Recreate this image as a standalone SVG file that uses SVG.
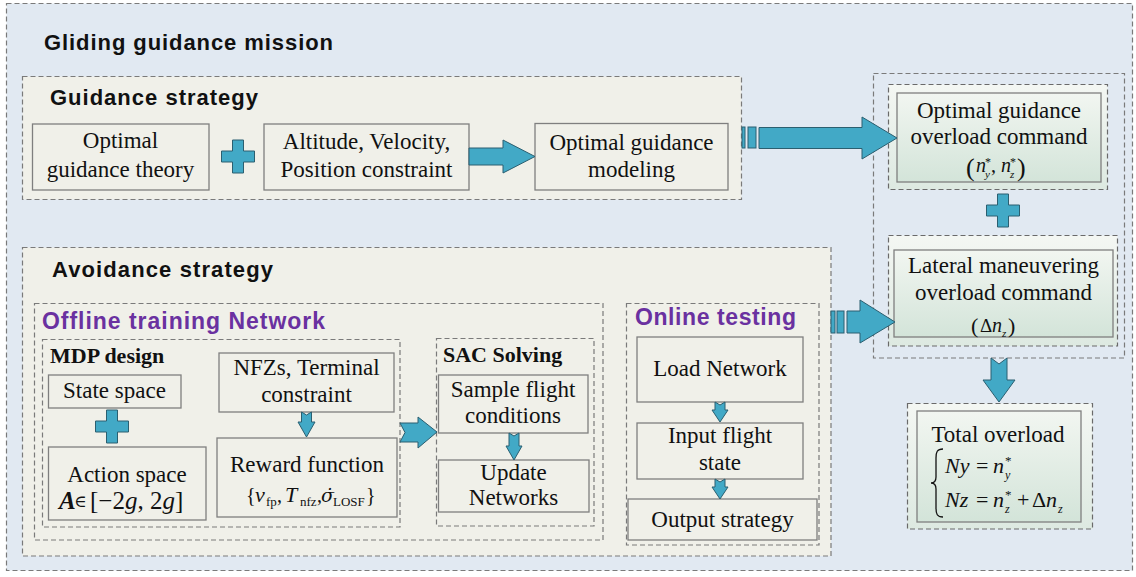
<svg xmlns="http://www.w3.org/2000/svg" width="1136" height="577" viewBox="0 0 1136 577">
<defs>
<linearGradient id="gr" x1="0" y1="0" x2="0" y2="1">
<stop offset="0" stop-color="#f2f6f1"/>
<stop offset="1" stop-color="#d3e4d9"/>
</linearGradient>
<linearGradient id="gr2" x1="0" y1="0" x2="0" y2="1">
<stop offset="0" stop-color="#f4f7f3"/>
<stop offset="1" stop-color="#dde9e1"/>
</linearGradient>
</defs>
<style>
.dash{fill:none;stroke:#7a7a7a;stroke-width:1.2;stroke-dasharray:5 3}
.panel{fill:#f0f0e9;stroke:#7a7a7a;stroke-width:1.2;stroke-dasharray:5 3}
.box{fill:#f0f0e9;stroke:#7f7f7f;stroke-width:1.3}
.gbox{fill:url(#gr);stroke:#7f7f7f;stroke-width:1.3}
.gdash{fill:url(#gr2);stroke:#6a6a6a;stroke-width:1.2;stroke-dasharray:5 3}
.t{font-family:"Liberation Serif",serif;font-size:23px;fill:#111;text-anchor:middle}
.tb{font-family:"Liberation Serif",serif;font-size:22px;font-weight:bold;fill:#111}
.h{font-family:"Liberation Sans",sans-serif;font-size:22px;font-weight:bold;fill:#111}
.p{font-family:"Liberation Sans",sans-serif;font-size:23px;font-weight:bold;fill:#6a31a0}
.m{font-family:"Liberation Serif",serif;fill:#111}
.i{font-style:italic}
.ar{fill:#42a9c6;stroke:#2b5f70;stroke-width:1}
</style>
<rect x="0" y="0" width="1136" height="577" fill="#ffffff"/>
<rect x="6.5" y="3.5" width="1126" height="567" fill="#e1e9f2" stroke="#7a7a7a" stroke-width="1.2" stroke-dasharray="5 3"/>
<text class="h" x="44" y="50" font-size="23" textLength="289">Gliding guidance mission</text>

<g id="guidance-strategy">
<rect class="panel" x="22.5" y="76.5" width="719" height="123"/>
<text class="h" x="50" y="105" textLength="208">Guidance strategy</text>
</g>
<g id="optimal-theory">
<rect class="box" x="32.5" y="124" width="176.5" height="66"/>
<text class="t" x="120.5" y="148">Optimal</text>
<text class="t" x="120.5" y="177">guidance theory</text>
</g>
<g id="plus1"><path class="ar" d="M232.5,140 h11 v11 h11 v11 h-11 v11 h-11 v-11 h-11 v-11 h11 z"/></g>
<g id="constraints">
<rect class="box" x="264" y="124" width="205" height="66"/>
<text class="t" x="366.5" y="149">Altitude, Velocity,</text>
<text class="t" x="366.5" y="177">Position constraint</text>
</g>
<g id="modeling">
<rect class="box" x="535" y="123.5" width="193" height="66.5"/>
<text class="t" x="631.5" y="150">Optimal guidance</text>
<text class="t" x="631.5" y="177">modeling</text>
</g>

<g id="right-group">
<rect class="dash" x="873.5" y="73.5" width="251" height="284.5"/>
</g>
<g id="optimal-command">
<rect class="gdash" x="888.5" y="84.5" width="219" height="105"/>
<rect class="gbox" x="897" y="93" width="204" height="89"/>
<text class="t" x="999" y="118">Optimal guidance</text>
<text class="t" x="999" y="144">overload command</text>
<text class="m" font-size="20"><tspan x="966" y="176" font-size="26">(</tspan><tspan class="i" x="976" y="172">n</tspan><tspan x="985" y="166" font-size="12">*</tspan><tspan class="i" x="985" y="178" font-size="11">y</tspan><tspan x="991" y="172">,</tspan><tspan class="i" x="1001" y="172">n</tspan><tspan x="1010" y="166" font-size="12">*</tspan><tspan class="i" x="1010" y="178" font-size="11">z</tspan><tspan x="1017" y="176" font-size="26">)</tspan></text>
</g>
<g id="plus2"><path class="ar" d="M997.5,194 h11 v11 h11 v11 h-11 v11 h-11 v-11 h-11 v-11 h11 z"/></g>
<g id="lateral-command">
<rect class="gdash" x="888.5" y="235.5" width="229" height="110.5"/>
<rect class="gbox" x="894" y="250" width="219" height="87"/>
<text class="t" x="1003.5" y="273">Lateral maneuvering</text>
<text class="t" x="1003.5" y="300">overload command</text>
<text class="m" font-size="20"><tspan x="971" y="333" font-size="22">(</tspan><tspan x="980" y="332" font-size="19">Δ</tspan><tspan class="i" x="992" y="332">n</tspan><tspan class="i" x="1002" y="337" font-size="11">z</tspan><tspan x="1008" y="333" font-size="22">)</tspan></text>
</g>
<g id="total-overload">
<rect class="gdash" x="907.5" y="403.5" width="185" height="125.5"/>
<rect class="gbox" x="917" y="411" width="164" height="111"/>
<text class="t" x="998" y="442">Total overload</text>
<path d="M943,449 C937,449 936,452 936,458 L936,477 C936,481 934,483 931,483 C934,483 936,485 936,489 L936,508 C936,514 937,517 943,517" fill="none" stroke="#111" stroke-width="1.3"/>
<text class="m" font-size="22"><tspan class="i" x="945" y="473">Ny</tspan><tspan x="976" y="473">=</tspan><tspan class="i" x="993" y="473">n</tspan><tspan x="1005" y="465" font-size="13">*</tspan><tspan class="i" x="1005" y="479" font-size="12">y</tspan></text>
<text class="m" font-size="22"><tspan class="i" x="945" y="507">Nz</tspan><tspan x="976" y="507">=</tspan><tspan class="i" x="993" y="507">n</tspan><tspan x="1005" y="499" font-size="13">*</tspan><tspan class="i" x="1005" y="513" font-size="12">z</tspan><tspan x="1017" y="507">+</tspan><tspan x="1032" y="507">Δ</tspan><tspan class="i" x="1046" y="507">n</tspan><tspan class="i" x="1058" y="513" font-size="12">z</tspan></text>
</g>

<g id="avoidance-strategy">
<rect class="panel" x="22.5" y="247.5" width="808.5" height="308.5"/>
<text class="h" x="52" y="277" textLength="221">Avoidance strategy</text>
</g>
<g id="offline-training">
<rect class="dash" x="34.5" y="303.5" width="568.5" height="236.5"/>
<text class="p" x="42" y="329" textLength="283">Offline training Network</text>
</g>
<g id="mdp-design">
<rect class="dash" x="42.5" y="339.5" width="357.5" height="187.5"/>
<text class="tb" x="50" y="363">MDP design</text>
</g>
<g id="state-space">
<rect class="box" x="48.5" y="375" width="132.5" height="33"/>
<text class="t" x="114.5" y="398">State space</text>
</g>
<g id="plus3"><path class="ar" d="M106.5,410 h11 v11 h11 v11 h-11 v11 h-11 v-11 h-11 v-11 h11 z"/></g>
<g id="action-space">
<rect class="box" x="48.5" y="447" width="157.5" height="73"/>
<text class="t" x="127" y="482">Action space</text>
<text class="m" font-size="25"><tspan x="59" y="509" font-weight="bold" font-style="italic">A</tspan><tspan x="74" y="507" font-size="17" font-family="DejaVu Serif, serif">∈</tspan><tspan x="90" y="509">[−2</tspan><tspan class="i">g</tspan><tspan>,  2</tspan><tspan class="i">g</tspan><tspan>]</tspan></text>
</g>
<g id="nfz">
<rect class="box" x="219" y="353" width="175" height="59"/>
<text class="t" x="306.5" y="375">NFZs, Terminal</text>
<text class="t" x="306.5" y="402">constraint</text>
</g>
<g id="reward">
<rect class="box" x="217" y="438" width="180" height="79"/>
<text class="t" x="307" y="472">Reward function</text>
<text class="m" font-size="20"><tspan x="246" y="502">{</tspan><tspan class="i" x="255" y="502" font-size="22">v</tspan><tspan x="266" y="506" font-size="13">fp</tspan><tspan x="277" y="502">,</tspan><tspan class="i" x="285" y="502" font-size="22">T</tspan><tspan x="300" y="506" font-size="13">nfz</tspan><tspan x="317" y="502">,</tspan><tspan class="i" x="321" y="502" font-size="19" font-family="DejaVu Serif, serif">σ̇</tspan><tspan x="333" y="506" font-size="13">LOSF</tspan><tspan x="366" y="502">}</tspan></text>
</g>
<g id="sac-solving">
<rect class="dash" x="436.5" y="338.5" width="157.5" height="187.5"/>
<text class="tb" x="443" y="362">SAC Solving</text>
</g>
<g id="sample">
<rect class="box" x="438.5" y="375" width="149.5" height="58"/>
<text class="t" x="513" y="397">Sample flight</text>
<text class="t" x="513" y="423">conditions</text>
</g>
<g id="update">
<rect class="box" x="438.5" y="460" width="150.5" height="52"/>
<text class="t" x="513.5" y="480">Update</text>
<text class="t" x="513.5" y="505">Networks</text>
</g>
<g id="online-testing">
<rect class="dash" x="626.5" y="303.5" width="192.5" height="241.5"/>
<text class="p" x="635" y="325" textLength="161">Online testing</text>
</g>
<g id="load-network">
<rect class="box" x="637" y="337" width="166" height="65"/>
<text class="t" x="720" y="376">Load Network</text>
</g>
<g id="input-state">
<rect class="box" x="637" y="423" width="166" height="56"/>
<text class="t" x="720" y="443">Input flight</text>
<text class="t" x="720" y="470">state</text>
</g>
<g id="output-strategy">
<rect class="box" x="628" y="499" width="189" height="41"/>
<text class="t" x="722.5" y="527">Output strategy</text>
</g>

<g id="connectors">
<path class="ar" d="M469,148 L503,148 L503,140 L535,156.5 L503,173 L503,165 L469,165 Z"/>
<rect class="ar" x="742" y="127" width="3" height="21"/>
<rect class="ar" x="748" y="127" width="8" height="21"/>
<path class="ar" d="M759,127.5 L862,127.5 L862,117 L897,138 L862,159 L862,148.5 L759,148.5 Z"/>
<rect class="ar" x="831" y="311" width="4" height="22"/>
<rect class="ar" x="837" y="311" width="7" height="22"/>
<path class="ar" d="M847,311 L860,311 L860,300 L895,322 L860,343 L860,333 L847,333 Z"/>
<path class="ar" d="M991,358 L999,364 L1007,358 L1007,380 L1015,380 L999,402 L983,380 L991,380 Z"/>
<path class="ar" d="M400,423 L418,423 L418,417 L437,432 L418,448 L418,442 L400,442 L405,432.5 Z"/>
<path class="ar" d="M301.5,412 L306.5,415 L311.5,412 L311.5,422 L315,422 L306.5,437 L298,422 L301.5,422 Z"/>
<path class="ar" d="M509,433 L514,436 L519,433 L519,446 L522,446 L514,460 L506,446 L509,446 Z"/>
<path class="ar" d="M715,402 L720,405 L725,402 L725,410 L728,410 L720,422 L712,410 L715,410 Z"/>
<path class="ar" d="M715,479 L720,482 L725,479 L725,487 L728,487 L720,499 L712,487 L715,487 Z"/>
</g>
</svg>
